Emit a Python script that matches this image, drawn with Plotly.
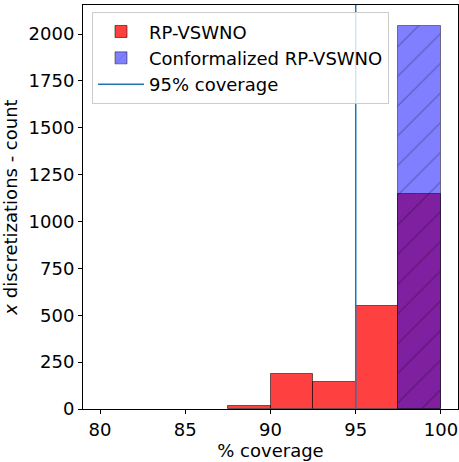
import plotly.graph_objects as go

# Histogram bins (% coverage), width 2.5
bin_left = [80.0, 82.5, 85.0, 87.5, 90.0, 92.5, 95.0, 97.5]
bin_width = 2.5
rp_counts = [0, 0, 0, 18, 185, 145, 550, 1147]
conf_counts = [0, 0, 0, 0, 0, 0, 0, 2045]
target_coverage = 95

x_ticks = [80, 85, 90, 95, 100]
y_ticks = [0, 250, 500, 750, 1000, 1250, 1500, 1750, 2000]

centers = [b + bin_width / 2 for b in bin_left]


def nonempty(counts):
    # empty bins draw nothing (no outline)
    return [c if c > 0 else None for c in counts]


fig = go.Figure()

fig.add_trace(go.Bar(
    x=centers, y=nonempty(rp_counts), width=bin_width,
    name="RP-VSWNO",
    marker=dict(color="rgba(255,0,0,0.75)",
                line=dict(color="rgba(0,0,0,0.55)", width=1)),
    legendrank=1,
))

fig.add_trace(go.Bar(
    x=centers, y=nonempty(conf_counts), width=bin_width,
    name="Conformalized RP-VSWNO",
    marker=dict(color="rgba(0,0,255,0.5)",
                line=dict(color="rgba(0,0,0,0.45)", width=1),
                pattern=dict(shape="/", size=21, solidity=0.05,
                             fgcolor="rgba(0,0,0,0.6)",
                             bgcolor="rgba(0,0,255,0.5)",
                             fillmode="overlay")),
    legendrank=2,
))

fig.add_shape(type="line", x0=target_coverage, x1=target_coverage,
              y0=0, y1=1, xref="x", yref="paper",
              line=dict(color="#1f77b4", width=1.5),
              showlegend=True, name="95% coverage", legendrank=3,
              layer="above")

fig.update_layout(
    width=459, height=462,
    margin=dict(l=83, r=1, t=5, b=53),
    barmode="overlay", bargap=0,
    plot_bgcolor="white", paper_bgcolor="white",
    font=dict(family="DejaVu Sans", size=18, color="black"),
    showlegend=True,
    legend=dict(x=0.024, y=0.982, xanchor="left", yanchor="top",
                bgcolor="rgba(255,255,255,0.8)",
                bordercolor="#cccccc", borderwidth=1,
                font=dict(size=18), tracegroupgap=0,
                itemwidth=46),
)

fig.update_xaxes(
    range=[79, 101], tickvals=x_ticks, ticktext=[str(t) for t in x_ticks],
    showgrid=False, zeroline=False,
    showline=True, linecolor="black", linewidth=1, mirror=True,
    ticks="outside", ticklen=4, tickcolor="black",
    tickfont=dict(size=18),
    title=dict(text="% coverage", standoff=2, font=dict(size=18)),
)
fig.update_yaxes(
    range=[0, 2155], tickvals=y_ticks, ticktext=[str(t) for t in y_ticks],
    showgrid=False, zeroline=False,
    showline=True, linecolor="black", linewidth=1, mirror=True,
    ticks="outside", ticklen=4, tickcolor="black",
    tickfont=dict(size=18),
    title=dict(text="<i>x</i> discretizations - count", standoff=8,
               font=dict(size=18)),
)

fig.write_html("out.html")
